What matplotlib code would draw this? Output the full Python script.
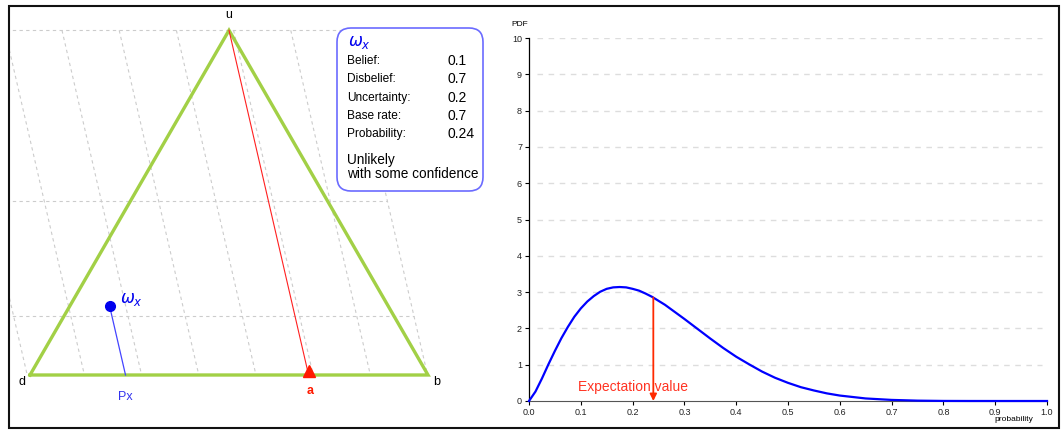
import numpy as np
import matplotlib
matplotlib.use('Agg')
import matplotlib.pyplot as plt
from matplotlib.patches import FancyBboxPatch, Rectangle

plt.rcParams['font.family'] = ['Liberation Sans', 'DejaVu Sans']

# opinion values
belief = 0.1
disbelief = 0.7
uncertainty = 0.2
base_rate = 0.7
probability = 0.24
box_labels = ['Belief:', 'Disbelief:', 'Uncertainty:', 'Base rate:', 'Probability:']
box_values = ['0.1', '0.7', '0.2', '0.7', '0.24']
verdict = 'Unlikely\nwith some confidence'

# PDF curve
prob_x = [0, 0.0125, 0.025, 0.0375, 0.05, 0.0625, 0.075, 0.0875, 0.1, 0.1125, 0.125,
          0.1375, 0.15, 0.1625, 0.175, 0.1875, 0.2, 0.2125, 0.225, 0.2375, 0.25, 0.2625,
          0.275, 0.3, 0.325, 0.35, 0.375, 0.4, 0.425, 0.45, 0.475, 0.5, 0.525, 0.55,
          0.575, 0.6, 0.65, 0.7, 0.75, 0.8, 0.85, 0.9, 0.95, 1.0]
pdf_y = [0, 0.26, 0.62, 1.01, 1.38, 1.73, 2.04, 2.32, 2.55, 2.74, 2.89,
         3.01, 3.09, 3.13, 3.14, 3.13, 3.09, 3.04, 2.96, 2.87, 2.76, 2.65,
         2.52, 2.26, 1.99, 1.72, 1.46, 1.22, 1.01, 0.81, 0.64, 0.50, 0.38, 0.29,
         0.21, 0.15, 0.07, 0.03, 0.01, 0.002, 0.0004, 0, 0, 0]
pdf_at_expectation = 2.85

W, Hpx = 1061, 430
fig = plt.figure(figsize=(W / 100, Hpx / 100), dpi=100)


def P(px, py):
    # pixel position in the left panel -> triangle coordinates
    return (px - 30) / 398, (375 - py) / 398


# ---- left panel: opinion triangle ----
ax1 = fig.add_axes([10 / W, 2 / Hpx, 460 / W, 422 / Hpx])
ax1.set_xlim(-20 / 398, 440 / 398)
ax1.set_ylim(-53 / 398, 369 / 398)
ax1.axis('off')

H = np.sqrt(3) / 2
D, B, U = np.array([0, 0]), np.array([1, 0]), np.array([0.5, H])
A = np.array([base_rate, 0])
slope = (U[0] - A[0]) / U[1]  # x shift per unit of height

grid_kw = dict(color='#cccccc', lw=0.8, dashes=(3, 3), zorder=1)
x0, step = 0.0804, 0.1437
right_top = x0 + 5 * step
for k in range(-7, 6):
    xt = x0 + k * step
    ax1.plot([xt, xt - slope * H], [H, 0], **grid_kw)
for yh in [H, 0.437, 0.148]:
    xr = right_top - slope * (H - yh)
    ax1.plot([-0.2, xr], [yh, yh], **grid_kw)

tri = np.array([D, B, U, D])
ax1.plot(tri[:, 0], tri[:, 1], color='#a2d046', lw=2.4, zorder=3, solid_joinstyle='miter')
ax1.plot([U[0], A[0]], [U[1], A[1]], color='#ff2020', lw=0.8, zorder=3)
ax1.plot(A[0], A[1] + 0.01, marker='^', color='#ff1a00', ms=9, zorder=4, clip_on=False)

pt = belief * B + disbelief * D + uncertainty * U
px_pos = belief + base_rate * uncertainty
ax1.plot([pt[0], px_pos], [pt[1], 0], color='#4444ff', lw=0.9, zorder=3)
ax1.plot(pt[0], pt[1], 'o', color='#0000ee', ms=7, zorder=4)

ax1.text(*P(120, 299), r'$\omega_x$', color='#0000ee', fontsize=12, va='center', ha='left')
ax1.text(*P(125, 397), 'Px', color='#3333ee', fontsize=9, ha='center', va='center')
ax1.text(*P(310, 391), 'a', color='#ff1a00', fontsize=9, ha='center', va='center', fontweight='bold')
ax1.text(*P(229, 15), 'u', fontsize=9, ha='center', va='center')
ax1.text(*P(22, 382), 'd', fontsize=9, ha='center', va='center')
ax1.text(*P(437, 382), 'b', fontsize=9, ha='center', va='center')

bx0, by1 = P(337, 28)
bx1, by0 = P(483, 191)
box = FancyBboxPatch((bx0, by0), bx1 - bx0, by1 - by0,
                     boxstyle='round,pad=0,rounding_size=0.035',
                     fc='white', ec='#6b6bff', lw=1.2, zorder=5, clip_on=False)
ax1.add_patch(box)
ax1.text(*P(348, 42), r'$\omega_x$', color='#0000ee', fontsize=12, va='center', zorder=6)
for i, (lab, val) in enumerate(zip(box_labels, box_values)):
    py = 61 + i * 18.3
    ax1.text(*P(347, py), lab, fontsize=8.6, va='center', zorder=6)
    ax1.text(*P(447, py), val, fontsize=10, va='center', zorder=6)
ax1.text(*P(347, 167), verdict, fontsize=9.8, va='center', zorder=6, linespacing=0.95)

# ---- right panel: PDF ----
ax2 = fig.add_axes([529 / W, 29 / Hpx, 518 / W, 363 / Hpx])
ax2.set_xlim(0, 1)
ax2.set_ylim(0, 10)
ax2.set_xticks(np.arange(0, 1.01, 0.1))
ax2.set_xticklabels([f'{v:.1f}' for v in np.arange(0, 1.01, 0.1)])
ax2.set_yticks(range(0, 11))
ax2.tick_params(labelsize=6.5, length=3, width=0.8, pad=2, labelcolor='#222222')
for s in ['top', 'right']:
    ax2.spines[s].set_visible(False)
ax2.spines['left'].set_linewidth(0.9)
ax2.spines['bottom'].set_color('#555555')
ax2.hlines(range(1, 11), 0.015, 0.99, color='#dddddd', lw=1, linestyles=(0, (4, 4)), zorder=1)

ax2.plot(prob_x, pdf_y, color='#0000ff', lw=1.6, zorder=3, clip_on=False)
ax2.annotate('', xy=(probability, 0), xytext=(probability, pdf_at_expectation),
             arrowprops=dict(arrowstyle='-|>', color='#ff2a00', lw=1.3, mutation_scale=10,
                             shrinkA=0, shrinkB=0), zorder=4)
ax2.text(0.2, 0.39, 'Expectation value', color='#ff3322', fontsize=10, ha='center', va='center')
ax2.text(-0.034, 1.036, 'PDF', transform=ax2.transAxes, fontsize=6, ha='left', va='center')
ax2.text(0.936, -0.052, 'probability', transform=ax2.transAxes, fontsize=6, ha='center', va='center')

fig.add_artist(Rectangle((9 / W, 2 / Hpx), 1050 / W, 422 / Hpx, transform=fig.transFigure,
                         fill=False, ec='#111111', lw=1.5))

fig.savefig('out.png', dpi=100)
